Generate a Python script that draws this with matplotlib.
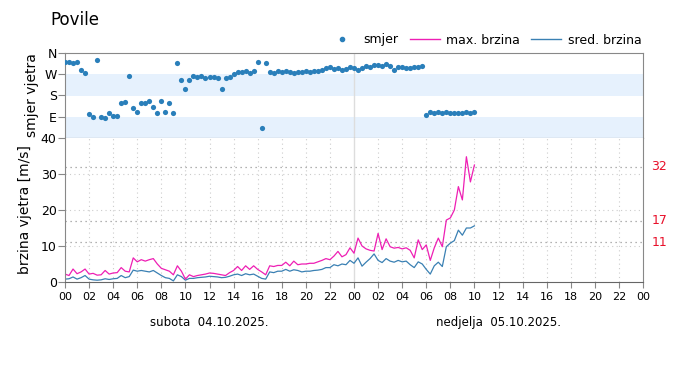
import numpy as np
import matplotlib.pyplot as plt
from matplotlib.lines import Line2D

# 20-minute steps from 00:00 Saturday to 10:00 Sunday (hours)
hours = np.arange(103) / 3.0

max_speed = [
    2.2, 1.8, 3.6, 2.3, 2.8, 3.6, 2.2, 2.4, 1.9, 2.0, 3.2, 2.2,
    2.5, 2.6, 4.0, 3.0, 2.8, 6.7, 5.6, 6.2, 5.8, 6.2, 6.5, 5.0,
    3.8, 3.4, 3.0, 2.0, 4.5, 3.0, 0.8, 2.0, 1.5, 1.8, 2.0, 2.2,
    2.5, 2.4, 2.2, 2.0, 1.8, 2.6, 3.2, 4.3, 3.2, 4.5, 3.5, 4.5,
    3.5, 2.8, 2.0, 4.5, 4.3, 4.6, 4.6, 5.5, 4.5, 5.8, 4.8, 5.0,
    5.0, 5.2, 5.2, 5.6, 6.0, 6.5, 6.2, 7.2, 8.5, 7.0, 7.6, 9.5,
    8.0, 12.2, 10.0, 9.2, 8.8, 8.6, 13.5, 9.0, 12.0, 9.8, 9.4, 9.6,
    9.2, 9.5, 8.8, 6.7, 11.7, 9.0, 10.3, 6.0, 9.5, 12.2, 9.8, 17.2,
    17.8, 20.0, 26.5, 22.8, 34.8, 27.8, 32.5,
]

mean_speed = [
    0.8, 0.9, 1.4, 0.8, 1.2, 1.8, 0.8, 0.6, 0.5, 0.6, 0.9, 0.7,
    0.9, 1.0, 1.8, 1.2, 1.5, 3.3, 3.0, 3.2, 3.0, 2.8, 3.2, 2.5,
    1.8, 1.2, 1.0, 0.3, 2.0, 1.5, 0.5, 1.0, 1.0, 1.2, 1.3, 1.4,
    1.6, 1.5, 1.4, 1.2, 1.3, 1.6, 2.0, 2.2, 1.8, 2.3, 2.0, 2.2,
    1.6, 1.0, 0.8, 2.8, 2.6, 3.0, 3.0, 3.5, 3.0, 3.4, 3.2, 2.8,
    3.0, 3.0, 3.2, 3.3, 3.5, 4.0, 4.0, 4.8, 4.5, 5.0, 4.8, 6.0,
    5.2, 6.7, 4.4, 5.5, 6.5, 7.8, 6.0, 5.4, 6.5, 5.8, 5.5, 6.0,
    5.6, 5.8, 4.8, 4.0, 5.6, 5.0, 3.5, 2.2, 4.5, 5.5, 4.3, 9.8,
    10.8, 11.5, 14.4, 13.0, 15.0, 15.0, 15.6,
]

direction = [
    322, 322, 318, 320, 288, 275, 101, 87, 330, 88, 86, 105,
    94, 93, 148, 153, 263, 127, 110, 148, 148, 157, 131, 106,
    157, 110, 148, 106, 318, 246, 207, 246, 262, 258, 262, 256,
    260, 258, 254, 207, 254, 258, 270, 278, 280, 284, 275, 282,
    322, 42, 318, 280, 277, 282, 278, 283, 280, 277, 281, 279,
    283, 280, 285, 282, 288, 296, 300, 292, 296, 290, 292, 300,
    296, 290, 298, 305, 300, 310, 308, 305, 312, 306, 288, 300,
    302, 298, 297, 300, 302, 305, 97, 110, 106, 110, 105, 108,
    104, 107, 104, 106, 108, 107, 110,
]

dir_ticks = [90, 180, 270, 360]
dir_labels = ['E', 'S', 'W', 'N']
limits = [32, 17, 11]
day_labels = ['subota  04.10.2025.', 'nedjelja  05.10.2025.']

c_max = '#ee1fb4'
c_mean = '#3a80b3'
c_dot = '#2a7fba'
c_spine = '#888888'

plt.rcParams['font.family'] = 'DejaVu Sans'
fig = plt.figure(figsize=(7, 3.86), dpi=100)
ax1 = fig.add_axes([65 / 700, 1 - 138 / 386, 578 / 700, 85 / 386])
ax2 = fig.add_axes([65 / 700, 1 - 282 / 386, 578 / 700, 144 / 386])

xt = np.arange(0, 49, 2)

# direction panel
ax1.axhspan(180, 270, color='#e6f1fd', lw=0)
ax1.axhspan(0, 90, color='#e6f1fd', lw=0)
ax1.axvline(24, color='#dddddd', lw=1)
ax1.scatter(hours, direction, s=14, color=c_dot, zorder=3, lw=0)
ax1.set_xlim(0, 48)
ax1.set_ylim(0, 360)
ax1.set_yticks(dir_ticks)
ax1.set_yticklabels(dir_labels)
ax1.set_xticks(xt)
ax1.tick_params(axis='x', length=0, labelbottom=False)
ax1.tick_params(axis='y', length=5, color=c_spine, labelsize=9, pad=1)
ax1.set_ylabel('smjer vjetra', fontsize=10, labelpad=4)
for s in ['top', 'left', 'right']:
    ax1.spines[s].set_color(c_spine)
ax1.spines['bottom'].set_color('#555555')

# speed panel
for x in xt[1:-1]:
    if x != 24:
        ax2.axvline(x, color='#cccccc', lw=0.8, ls=(0, (1, 3)))
for y in [10, 20, 30]:
    ax2.axhline(y, color='#cccccc', lw=0.8, ls=(0, (1, 3)))
for y in limits:
    ax2.axhline(y, color='#999999', lw=0.9, ls=(0, (1, 3)))
    ax2.text(48.7, y, str(y), color='#e8102a', fontsize=9, va='center', ha='left')
ax2.axvline(24, color='#dddddd', lw=1)
ax2.plot(hours, mean_speed, color=c_mean, lw=0.9)
ax2.plot(hours, max_speed, color=c_max, lw=0.9)
ax2.set_xlim(0, 48)
ax2.set_ylim(0, 40)
ax2.set_yticks([0, 10, 20, 30, 40])
ax2.set_xticks(xt)
ax2.set_xticklabels(['%02d' % (x % 24) for x in xt], fontsize=8)
ax2.tick_params(axis='x', length=4, color=c_spine, pad=3)
ax2.tick_params(axis='y', length=5, color=c_spine, labelsize=9, pad=1)
ax2.set_ylabel('brzina vjetra [m/s]', fontsize=10, labelpad=6)
ax2.spines['top'].set_visible(False)
ax2.spines['right'].set_color(c_spine)
ax2.spines['left'].set_color(c_spine)
ax2.spines['bottom'].set_color('#666666')

for i, lab in enumerate(day_labels):
    ax2.text(12 + 24 * i, -11.3, lab, fontsize=8.5, ha='center', va='center')

fig.text(50 / 700, 1 - 20 / 386, 'Povile', fontsize=12, va='center')

handles = [
    Line2D([], [], marker='o', ls='', color=c_dot, markersize=3),
    Line2D([], [], color=c_max, lw=1),
    Line2D([], [], color=c_mean, lw=1),
]
fig.legend(handles, ['smjer', 'max. brzina', 'sred. brzina'],
           loc='center right', bbox_to_anchor=(650 / 700, 1 - 40 / 386),
           ncol=3, frameon=False, fontsize=9, handlelength=2.4,
           columnspacing=0.9, handletextpad=0.5, borderpad=0.2)

fig.savefig('out.png', dpi=100)
